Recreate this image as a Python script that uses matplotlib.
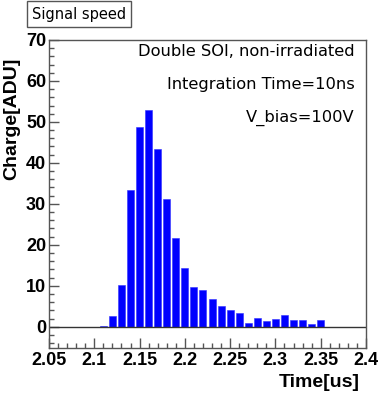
import matplotlib
matplotlib.use("Agg")
import matplotlib.pyplot as plt
from matplotlib.ticker import MultipleLocator

# Histogram data (bin centers in us, charge in ADU)
time_us = [2.11, 2.12, 2.13, 2.14, 2.15, 2.16, 2.17, 2.18, 2.19, 2.20,
           2.21, 2.22, 2.23, 2.24, 2.25, 2.26, 2.27, 2.28, 2.29, 2.30,
           2.31, 2.32, 2.33, 2.34, 2.35]
charge = [0.2, 2.6, 10.2, 33.4, 48.7, 52.9, 43.5, 31.3, 21.6, 14.3,
          9.6, 9.0, 6.8, 5.1, 4.2, 3.3, 1.0, 2.2, 1.4, 2.0,
          2.8, 1.6, 1.6, 0.6, 1.6]
info_lines = ["Double SOI, non-irradiated", "Integration Time=10ns", "V_bias=100V"]

W, H = 382, 394
fig = plt.figure(figsize=(W / 100, H / 100), dpi=100)
ax = fig.add_axes([49 / W, 1 - 348 / H, (366 - 49) / W, (348 - 40) / H])

ax.bar(time_us, charge, width=0.0077, color="#0000ff", edgecolor="#3030ff", linewidth=0.4)
ax.axhline(0, color="#333333", lw=1.0)

ax.set_xlim(2.05, 2.4)
ax.set_ylim(-5.2, 70)
ax.xaxis.set_major_locator(MultipleLocator(0.05))
ax.xaxis.set_minor_locator(MultipleLocator(0.01))
ax.yaxis.set_major_locator(MultipleLocator(10))
ax.yaxis.set_minor_locator(MultipleLocator(2))
ax.set_xticks([2.05, 2.1, 2.15, 2.2, 2.25, 2.3, 2.35, 2.4])
ax.set_xticklabels(["2.05", "2.1", "2.15", "2.2", "2.25", "2.3", "2.35", "2.4"])

for s in ax.spines.values():
    s.set_color("#555555")
    s.set_linewidth(1.0)

tick_font = dict(family="Liberation Sans", weight="bold", size=13)
title_font = dict(family="Liberation Sans", weight="bold", size=14)
ax.tick_params(which="both", direction="in", top=False, right=False, color="#555555")
ax.tick_params(which="major", length=7, width=1.0)
ax.tick_params(which="minor", length=3.5, width=1.0)
ax.tick_params(axis="y", pad=2)
ax.tick_params(axis="x", pad=3)
for lab in ax.get_xticklabels() + ax.get_yticklabels():
    lab.set_fontproperties(tick_font)

# axis titles placed like ROOT does (right / top aligned)
fig.text(360 / W, 1 - 387 / H, "Time[us]", ha="right", va="baseline", **title_font)
fig.text(12 / W, 1 - 58 / H, "Charge[ADU]", ha="center", va="top", rotation=90, **title_font)

for i, line in enumerate(info_lines):
    ax.text(355 / W, 1 - (52 + 33 * i) / H, line, transform=fig.transFigure,
            ha="right", va="center", fontsize=11.7, family="DejaVu Sans")

fig.text(32 / W, 1 - 14 / H, "Signal speed", ha="left", va="center",
         fontsize=10.5, family="DejaVu Sans",
         bbox=dict(boxstyle="square,pad=0.35", fc="white", ec="#555555", lw=1.0))

fig.savefig("out.png", dpi=100)
